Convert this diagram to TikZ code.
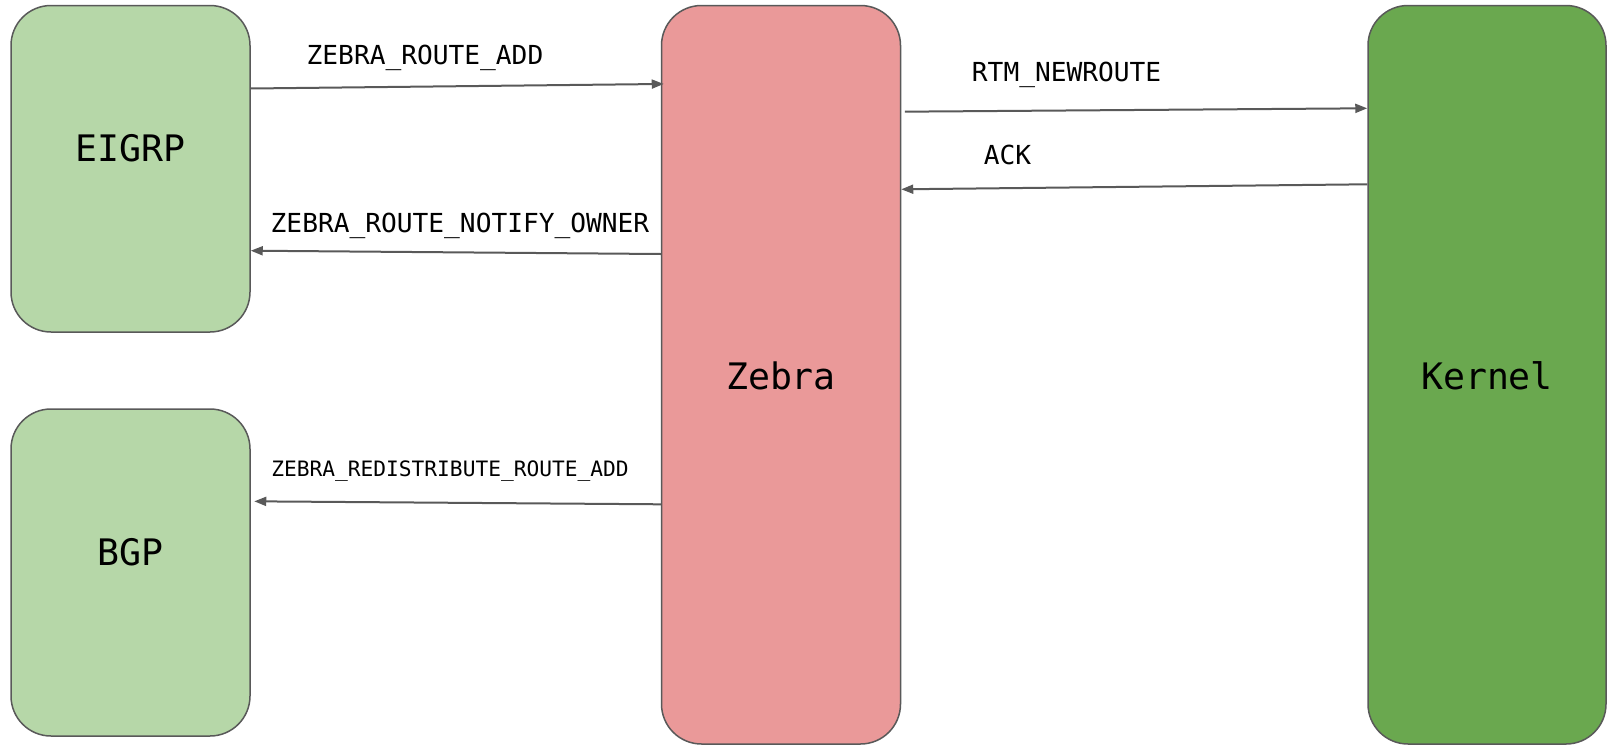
\documentclass[tikz,border=0pt]{standalone}
\usepackage{fontspec}
\setmonofont{DejaVu Sans Mono}
\usetikzlibrary{arrows.meta}
\definecolor{lgreen}{HTML}{B6D7A8}
\definecolor{pinkred}{HTML}{EA9999}
\definecolor{dgreen}{HTML}{6AA84F}
\definecolor{edgegray}{HTML}{595959}
\begin{document}
\begin{tikzpicture}[x=1pt,y=-1pt,
  box/.style={draw=edgegray, line width=1.5pt, rounded corners=40pt, inner sep=0pt},
  msg/.style={draw=edgegray, line width=2pt, -{Triangle[length=12pt,width=9pt]}},
  big/.style={font=\fontsize{36.5}{40}\selectfont\ttfamily, anchor=base, inner sep=0pt},
  lbl/.style={font=\fontsize{26.2}{30}\selectfont\ttfamily, anchor=base, inner sep=0pt},
  small/.style={font=\fontsize{21.2}{24}\selectfont\ttfamily, anchor=base, inner sep=0pt}]
\useasboundingbox (0,0) rectangle (1608,744);

% boxes
\node[box, fill=lgreen, minimum width=239pt, minimum height=326.5pt] (eigrp) at (130.5,168.75) {};
\node[box, fill=lgreen, minimum width=239pt, minimum height=327pt] (bgp) at (130.5,572.5) {};
\node[box, fill=pinkred, minimum width=239pt, minimum height=738.5pt] (zebra) at (781,374.75) {};
\node[box, fill=dgreen, minimum width=238pt, minimum height=738.5pt] (kernel) at (1487,374.75) {};

% box texts
\node[big] (eigrpt) at (130.5,161.6) {EIGRP};
\node[big] (bgpt) at (130.5,565) {BGP};
\node[big] (zebrat) at (781,389.7) {Zebra};
\node[big] (kernelt) at (1487,389.7) {Kernel};

% messages
\draw[msg, shorten >=-3pt] (eigrp.east |- 0,88.5) -- (zebra.west |- 0,84);
\draw[msg] (zebra.west |- 0,254) -- (eigrp.east |- 0,250.7);
\draw[msg, shorten >=3.5pt] (zebra.west |- 0,504.3) -- (bgp.east |- 0,501.3);
\draw[msg, shorten <=3.5pt] (zebra.east |- 0,111.7) -- (kernel.west |- 0,108.3);
\draw[msg] (kernel.west |- 0,184.3) -- (zebra.east |- 0,189.3);

% message labels
\node[lbl] (l1) at (425,64.5) {ZEBRA\_ROUTE\_ADD};
\node[lbl] (l2) at (460,232.2) {ZEBRA\_ROUTE\_NOTIFY\_OWNER};
\node[small] (l3) at (450,476.5) {ZEBRA\_REDISTRIBUTE\_ROUTE\_ADD};
\node[lbl] (l4) at (1066.6,81.7) {RTM\_NEWROUTE};
\node[lbl] (l5) at (1007.4,164.5) {ACK};
\end{tikzpicture}
\end{document}
